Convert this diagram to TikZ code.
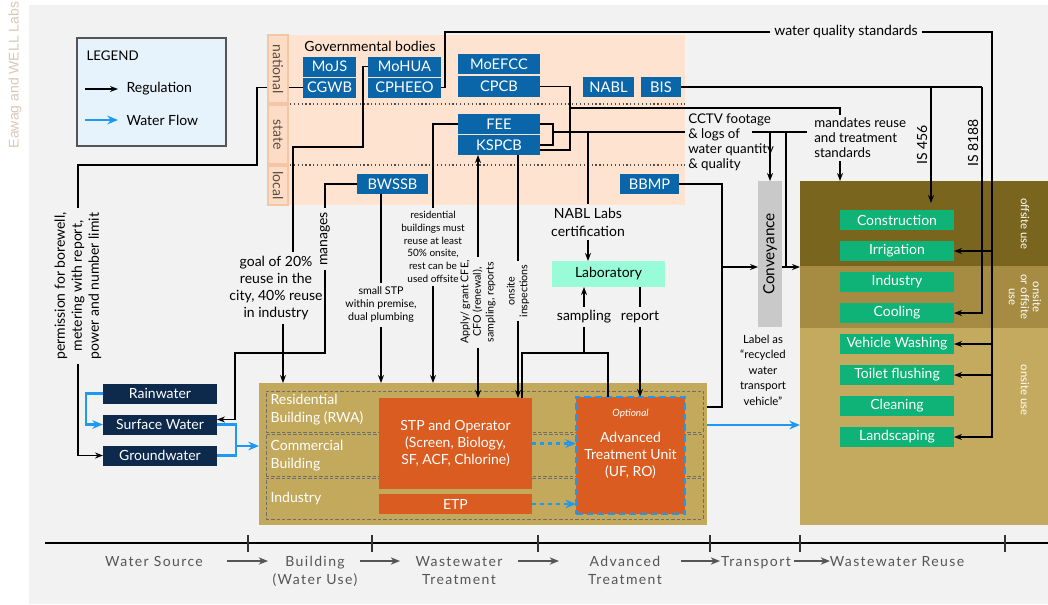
\documentclass[tikz,border=0pt]{standalone}
\usepackage{fontspec}
\setmainfont{Lato}
\newfontfamily\axisfont[LetterSpace=10]{Lato}
\newfontfamily\creditfont{Liberation Sans}
\usetikzlibrary{arrows.meta}
\usetikzlibrary{positioning}

\definecolor{bggray}{HTML}{F2F2F2}
\definecolor{markcol}{HTML}{D9C7B5}
\definecolor{legendfill}{HTML}{E6F2FC}
\definecolor{legendline}{HTML}{555555}
\definecolor{peach}{HTML}{FEE3D0}
\definecolor{tierfill}{HTML}{FCDCC5}
\definecolor{tierline}{HTML}{F3C6A5}
\definecolor{tiertext}{HTML}{5C4C44}
\definecolor{govblue}{HTML}{0A66A8}
\definecolor{srcnavy}{HTML}{0D2A4C}
\definecolor{flowblue}{HTML}{1E98F2}
\definecolor{bldgtan}{HTML}{C3A95C}
\definecolor{unitorange}{HTML}{DA5C20}
\definecolor{usegreen}{HTML}{0FB277}
\definecolor{labmint}{HTML}{98FCD8}
\definecolor{convgray}{HTML}{C9C9C9}
\definecolor{bandone}{HTML}{7A651E}
\definecolor{bandtwo}{HTML}{A68C43}
\definecolor{bandthree}{HTML}{C4AA5E}
\definecolor{dashgray}{HTML}{6E6E6E}
\definecolor{axisgray}{HTML}{555555}

\tikzset{
  size/.style 2 args={minimum width=#1*0.75pt, minimum height=#2*0.75pt, outer sep=0pt},
  gov/.style={fill=govblue, text=white, inner sep=0pt, font=\fontsize{11}{13}\selectfont},
  src/.style={fill=srcnavy, text=white, inner sep=0pt, size={114}{20}, font=\fontsize{10.5}{12}\selectfont},
  use/.style={fill=usegreen, text=white, inner sep=0pt, size={114}{20}, font=\fontsize{10.5}{12}\selectfont},
  unit/.style={fill=unitorange, text=white, inner sep=0pt, align=center, font=\fontsize{10.5}{12.75}\selectfont},
  note/.style={align=center, inner sep=2.5pt, font=\fontsize{10.5}{12.75}\selectfont},
  smallnote/.style={align=center, inner sep=2.5pt, font=\fontsize{7.5}{9.5}\selectfont},
  tier/.style={fill=tierfill, draw=tierline, line width=0.8pt, rotate=-90, text=tiertext, inner sep=0pt, font=\fontsize{10.5}{12}\selectfont},
  subbox/.style={draw=dashgray, line width=0.6pt, dash pattern=on 2.5pt off 1.5pt},
  bldglabel/.style={anchor=west, align=left, text=white, inner sep=0pt, font=\fontsize{10.5}{13.5}\selectfont},
  bandlabel/.style={rotate=-90, align=center, text=white, inner sep=0pt, font=\fontsize{8.5}{9}\selectfont},
  flow/.style={draw=flowblue, line width=1.6pt, >={Stealth[length=8pt,width=6.5pt]}},
  dotline/.style={draw=black!70, line width=0.9pt, dotted},
  stage/.style={anchor=north, align=center, text=axisgray, inner sep=0pt, font=\axisfont\fontsize{10.5}{13.5}\selectfont},
  stagearrow/.style={draw=axisgray, line width=1pt, ->, >={Stealth[length=7pt,width=5.5pt]}}
}

\begin{document}
\begin{tikzpicture}[x=0.75pt, y=-0.75pt, line width=0.9pt, >={Stealth[length=6pt,width=4.5pt]}]
  \useasboundingbox (0,0) rectangle (1048,604);
  \fill[bggray] (29,5) rectangle (1048,604);
  \node[rotate=90, text=markcol, inner sep=0pt, font=\creditfont\fontsize{10.5}{12}\selectfont] (credit) at (15,75) {Eawag and WELL Labs};

  % legend
  \node[draw=legendline, fill=legendfill, line width=0.8pt, size={149}{108}] (legend) at (151.5,92) {};
  \node[anchor=west, inner sep=0pt, font=\fontsize{10}{12}\selectfont] (legtitle) at (86,56) {LEGEND};
  \node[anchor=west, inner sep=3pt, font=\fontsize{10.5}{12}\selectfont] (legreg) at (122,89) {Regulation};
  \node[anchor=west, inner sep=3pt, font=\fontsize{10.5}{12}\selectfont] (legflow) at (122,120) {Water Flow};
  \draw[->] ([xshift=-27.75pt]legreg.west) -- ([xshift=-3pt]legreg.west);
  \draw[flow,->] ([xshift=-27.75pt]legflow.west) -- ([xshift=-3pt]legflow.west);

  % governmental bodies
  \fill[peach] (268,35) rectangle (685,205);
  \draw[dotline] (290,104) -- (685,104);
  \draw[dotline] (290,165) -- (685,165);
  \node[inner sep=0pt, font=\fontsize{10.5}{12}\selectfont] (govtitle) at (370,46) {Governmental bodies};
  \node[gov, size={53}{20}] (MoJS) at (329.5,66.5) {MoJS};
  \node[gov, size={53}{20}] (CGWB) [below = 0.75pt of MoJS] {CGWB};
  \node[gov, size={73}{20}] (MoHUA) at (404.5,66.5) {MoHUA};
  \node[gov, size={73}{20}] (CPHEEO) [below = 0.75pt of MoHUA] {CPHEEO};
  \node[gov, size={82}{20}] (MoEFCC) at (499,64) {MoEFCC};
  \node[gov, size={82}{21}] (CPCB) [below = 1.5pt of MoEFCC] {CPCB};
  \node[gov, size={51}{20}] (NABL) at (608.5,87) {NABL};
  \node[gov, size={40}{20}] (BIS) [right = 5.25pt of NABL] {BIS};
  \node[gov, size={82}{20}] (FEE) at (499,124) {FEE};
  \node[gov, size={82}{20}] (KSPCB) [below = 0.75pt of FEE] {KSPCB};
  \node[gov, size={71}{20}] (BWSSB) at (392.5,184) {BWSSB};
  \node[gov, size={59}{20}] (BBMP) at (649.5,184) {BBMP};

  % reuse area
  \fill[bandone] (800,181) rectangle (1048,266);
  \fill[bandtwo] (800,266) rectangle (1048,328);
  \fill[bandthree] (800,328) rectangle (1048,525);
  \coordinate (reuse) at (800,181);
  \node[bandlabel] (offsite) at (1025,224) {offsite use};
  \node[bandlabel] (either) at (1025,297) {onsite\\or offsite\\use};
  \node[bandlabel] (onsite) at (1025,390) {onsite use};
  \node[use] (constr) at (897,220) {Construction};
  \node[use] (irrig) [below = 8.25pt of constr] {Irrigation};
  \node[use] (indus) [below = 8.25pt of irrig] {Industry};
  \node[use] (cool) [below = 8.25pt of indus] {Cooling};
  \node[use] (vwash) [below = 8.25pt of cool] {Vehicle Washing};
  \node[use] (toilet) [below = 8.25pt of vwash] {Toilet flushing};
  \node[use] (clean) [below = 8.25pt of toilet] {Cleaning};
  \node[use] (landsc) [below = 8.25pt of clean] {Landscaping};

  % water sources
  \node[src] (rain) at (160,393.5) {Rainwater};
  \node[src] (SW) [below = 8.25pt of rain] {Surface Water};
  \node[src] (GW) [below = 8.25pt of SW] {Groundwater};

  % buildings and treatment
  \node[fill=bldgtan, size={448}{142}] (bldg) at (483,454) {};
  \node[subbox, size={437}{41}] (resbox) at (484.5,411.5) {};
  \node[subbox, size={437}{42}] (combox) at (484.5,455) {};
  \node[subbox, size={437}{41}] (indbox) at (484.5,498.5) {};
  \node[bldglabel] (reslabel) at (270,410) {Residential\\Building (RWA)};
  \node[bldglabel] (comlabel) at (270,455.5) {Commercial\\Building};
  \node[bldglabel] (indlabel) at (270,499) {Industry};
  \node[unit, size={153}{91}] (STP) at (455.5,443.5) {STP and Operator\\(Screen, Biology,\\SF, ACF, Chlorine)};
  \node[unit, size={153}{20}] (ETP) at (455.5,504) {ETP};
  \node[unit, draw=flowblue, line width=1.6pt, dash pattern=on 5pt off 3pt, size={109}{117}] (ATU) at (630.5,455.5) {Advanced\\Treatment Unit\\(UF, RO)};
  \node[text=white, inner sep=0pt, font=\itshape\fontsize{7.5}{9}\selectfont] (atuopt) [below = 9pt of ATU.north] {Optional};

  % labels on the connectors
  \node[note, rotate=90] (permit) at (78,286) {permission for borewell,\\metering with report,\\power and number limit};
  \node[note] (goal) at (276,288) {goal of 20\%\\reuse in the\\city, 40\% reuse\\in industry};
  \node[note, rotate=90] (manages) at (325,239) {manages};
  \node[smallnote, font=\fontsize{8}{9.75}\selectfont] (smallstp) at (381,305) {small STP\\within premise,\\dual plumbing};
  \node[smallnote] (resid) at (433,247) {residential\\buildings must\\reuse at least\\50\% onsite,\\rest can be\\used offsite};
  \node[smallnote, rotate=90, font=\fontsize{8}{9.5}\selectfont] (apply) at (478,302) {Apply/ grant CFE,\\CFO (renewal),\\sampling, reports};
  \node[smallnote, rotate=90, font=\fontsize{8}{9.5}\selectfont] (onsitein) at (518,291) {onsite\\inspections};
  \node[note, font=\fontsize{10.5}{13.5}\selectfont] (nabllab) at (588,222) {NABL Labs\\certification};
  \node[fill=labmint, inner sep=0pt, size={113}{26}, font=\fontsize{10.5}{12}\selectfont] (lab) at (608.5,274) {Laboratory};
  \node[note] (sampling) at (584,317) {sampling};
  \node[note] (report) at (640,317) {report};
  \node[note, align=left, anchor=west, inner sep=2pt, font=\fontsize{10}{11.25}\selectfont] (cctv) at (685,142.5) {CCTV footage\\\& logs of\\water quantity\\\& quality};
  \node[note, align=left, anchor=west, inner sep=2pt, font=\fontsize{10}{11.25}\selectfont] (mand) at (811,138) {mandates reuse\\and treatment\\standards};
  \node[note, rotate=90] (is456) at (922,145) {IS 456};
  \node[note, rotate=90] (is8188) at (973,143) {IS 8188};
  \node[note] (wqs) at (846,32) {water quality standards};
  \node[fill=convgray, rotate=90, inner sep=0pt, size={146}{24}, font=\fontsize{11.5}{13}\selectfont] (conv) at (770,254) {Conveyance};
  \node[note, font=\fontsize{8.5}{11.6}\selectfont] (labelas) at (763,370) {Label as\\“recycled\\water\\transport\\vehicle”};

  % regulation
  \draw (CGWB.west) -| (257,165) -| (permit.east);
  \draw[->] (permit.west) |- (GW.west);
  \draw (MoHUA.west) -- ++(-5,0) |- (293,147) -- ([xshift=12.75pt]goal.north);
  \draw[->] ([xshift=5.25pt]goal.south) -- ([xshift=5.25pt]goal.south |- bldg.north);
  \draw (BWSSB.west) -| (manages.east);
  \draw[->] (manages.west) |- (235,353) |- ([yshift=3.75pt]SW.east);
  \draw (smallstp.north |- BWSSB.south) -- (smallstp.north);
  \draw[->] (smallstp.south) -- (smallstp.south |- bldg.north);
  \draw (FEE.west) -| (resid.north);
  \draw[->] (resid.south) -- (resid.south |- bldg.north);
  \draw[->] (apply.east) -- (apply.east |- KSPCB.south);
  \draw[->] (apply.west) -- (apply.west |- STP.north);
  \draw (onsitein.east |- KSPCB.south) -- (onsitein.east);
  \draw[->] (onsitein.west) -- (onsitein.west |- STP.north);

  \coordinate (smp) at (584,353);
  \draw ([xshift=-7.5pt]STP.north east) |- (smp) -| ([xshift=-16.9pt]ATU.north);
  \draw (smp) -- (sampling.south);
  \draw[->] (sampling.north) -- (sampling.north |- lab.south);
  \draw (report.north |- lab.south) -- (report.north);
  \draw[->] (report.south) -- (report.south |- ATU.north);

  \coordinate (fk) at (553,132);
  \draw (FEE.east) -| (fk) |- (KSPCB.east);
  \draw (fk) -- (fk -| cctv.west);
  \draw (fk -| nabllab) -- (nabllab);
  \draw[->] (nabllab.south) -- (nabllab.south |- lab.north);
  \coordinate (cc) at (752,132);
  \draw (cc) -- ++(55,0);
  \draw[->] (conv.east |- cc) -- (conv.east);
  \coordinate (cv) at (786,267);
  \draw (cv |- cc) -- (cv);

  \coordinate (cm) at (570,108);
  \draw (CPCB.east) -| (cm) |- ([yshift=-3.75pt]KSPCB.east);
  \coordinate (md) at (840,108);
  \draw (cm) -- (md) -- (md |- mand.north);
  \draw[->] (md |- mand.south) -- (md |- reuse);

  \coordinate (wqx) at (992,32);
  \draw (CPHEEO.east) -- ++(4,0) |- (wqs.west);
  \draw[->] (wqs.east) -| (wqx |- landsc.east) -- (landsc.east);
  \foreach \u in {irrig, vwash, toilet}
    \draw[->] (wqx |- \u.east) -- (\u.east);

  \coordinate (is4) at (931,87);
  \coordinate (is8) at (982,87);
  \draw (BIS.east) -- (is8);
  \draw[->] (is8) |- (cool.east);
  \draw[->] (is4) -- ([yshift=5.25pt]is4 |- constr.north);

  \coordinate (bb) at (722,267);
  \draw (BBMP.east) -| (bb) |- ([yshift=35.25pt]bldg.east);
  \draw[->] (bb) -- (bb -| conv.north);
  \draw[->] (conv.south |- cv) -- (cv -| reuse);

  % water flow
  \draw[flow,->] (rain.west) -- ++(-17,0) |- (SW.west);
  \coordinate (sj) at (236,446);
  \draw[flow] (SW.east) -| (sj) |- (GW.east);
  \draw[flow,->] (sj) -- (sj -| bldg.west);
  \draw[flow,->] ([yshift=21.75pt]bldg.east) -- ([yshift=21.75pt]bldg.east -| reuse);
  \draw[flow,dashed,->] (STP.east) -- (STP.east -| ATU.west);
  \draw[flow,dashed,->] (ETP.east) -- (ETP.east -| ATU.west);

  % tiers
  \node[tier, size={68}{20}] (national) at (278,69) {national};
  \node[tier, size={59}{20}] (state) at (278,134.5) {state};
  \node[tier, size={39}{20}] (local) at (278,185.5) {local};

  % stages
  \draw[black] (45,543) -- (1048,543);
  \foreach \x in {248,372,538,710,800,1005}
    \draw[black!80] (\x,535) -- (\x,552);
  \node[stage] (s1) at (154,555.5) {Water Source};
  \node[stage] (s2) at (315,555.5) {Building\\(Water Use)};
  \node[stage] (s3) at (459,555.5) {Wastewater\\Treatment};
  \node[stage] (s4) at (625,555.5) {Advanced\\Treatment};
  \node[stage] (s5) at (756,555.5) {Transport};
  \node[stage] (s6) at (897,555.5) {Wastewater Reuse};
  \foreach \a/\b in {227/268, 360/400, 518/559, 681/720, 794/830}
    \draw[stagearrow] (\a,561) -- (\b,561);
\end{tikzpicture}
\end{document}
